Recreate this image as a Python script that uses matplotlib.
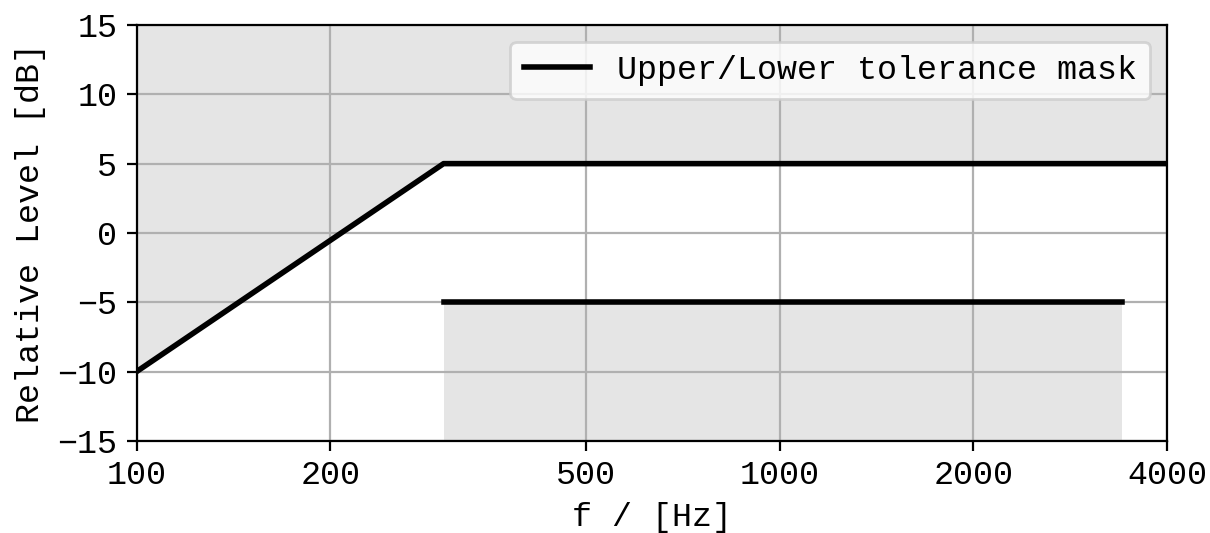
import matplotlib
matplotlib.use("Agg")
import matplotlib.pyplot as plt
from matplotlib.ticker import FixedLocator, FixedFormatter, NullLocator

plt.rcParams['font.family'] = ['Liberation Mono', 'DejaVu Sans']
plt.rcParams['font.size'] = 12

# Data
upper_f = [100, 300, 4000]
upper_db = [-10, 5, 5]
lower_f = [300, 3400]
lower_db = [-5, -5]
xticks = [100, 200, 500, 1000, 2000, 4000]
xtick_labels = ["100", "200", "500", "1000", "2000", "4000"]
yticks = [-15, -10, -5, 0, 5, 10, 15]

fig = plt.figure(figsize=(6.05, 2.665), dpi=200)
ax = fig.add_axes([0.113, 0.173, 0.8515, 0.780])

fill_color = "#e5e5e5"
ax.fill_between(upper_f, upper_db, 15, color=fill_color, lw=0, zorder=0)
ax.fill_between(lower_f, -15, lower_db, color=fill_color, lw=0, zorder=0)

ax.plot(upper_f, upper_db, color="black", lw=2, label="Upper/Lower tolerance mask", zorder=3)
ax.plot(lower_f, lower_db, color="black", lw=2, zorder=3)

ax.set_xscale("log")
ax.set_xlim(100, 4000)
ax.set_ylim(-15, 15)
ax.xaxis.set_major_locator(FixedLocator(xticks))
ax.xaxis.set_major_formatter(FixedFormatter(xtick_labels))
ax.xaxis.set_minor_locator(NullLocator())
ax.set_yticks(yticks)
ax.grid(True, which="major", color="#b0b0b0", lw=0.8, zorder=1)
ax.set_axisbelow(True)

ax.set_xlabel("f / [Hz]")
ax.set_ylabel("Relative Level [dB]")
ax.legend(loc="upper right")

fig.savefig("out.png", dpi=200)
